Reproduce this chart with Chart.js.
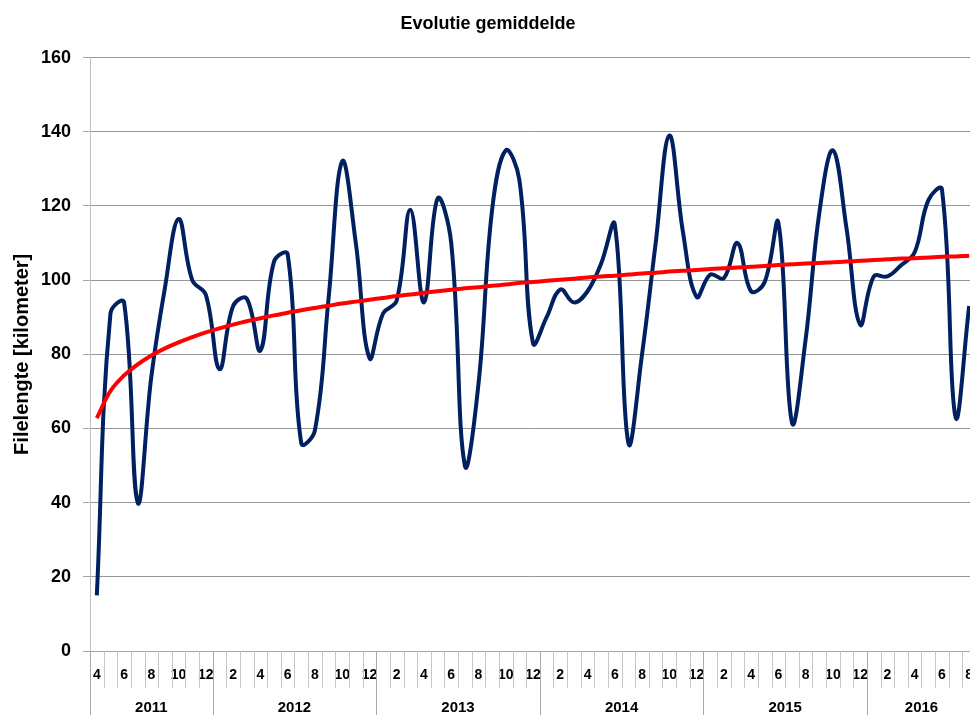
<!DOCTYPE html>
<html>
<head>
<meta charset="utf-8">
<script src="https://cdn.jsdelivr.net/npm/chart.js@4/dist/chart.umd.min.js"></script>
<style>
  html, body { margin: 0; padding: 0; overflow: hidden; background: #ffffff; }
  #wrap { width: 970px; height: 715px; overflow: hidden; }
  canvas { display: block; }
</style>
</head>
<body>
<div id="wrap"><canvas id="c" width="977" height="715"></canvas></div>
<script>
// ---- data ----
const years = ['2011', '2012', '2013', '2014', '2015', '2016'];
const monthsPerYear = [9, 12, 12, 12, 12, 8];
const months = [
  4, 5, 6, 7, 8, 9, 10, 11, 12,
  1, 2, 3, 4, 5, 6, 7, 8, 9, 10, 11, 12,
  1, 2, 3, 4, 5, 6, 7, 8, 9, 10, 11, 12,
  1, 2, 3, 4, 5, 6, 7, 8, 9, 10, 11, 12,
  1, 2, 3, 4, 5, 6, 7, 8, 9, 10, 11, 12,
  1, 2, 3, 4, 5, 6, 7, 8
];
const filelengte = [
  15, 91, 94, 40, 74, 98, 116.5, 100, 96,
  76, 93, 95, 81, 105, 107, 56, 59.5, 95, 132, 110, 79,
  91, 94.5, 119, 94, 122, 110, 50, 72, 119, 135, 127, 83,
  90, 97.5, 94, 97, 104.5, 115, 56, 80, 110, 139, 113, 95.5,
  101.5, 100.5, 110, 97, 99.5, 115.5, 61.5, 84, 118, 135, 114, 88,
  101, 101, 104, 107.5, 121.5, 124.5, 63, 93
];
const trend = [
  62.8, 70.1, 74.3, 77.3, 79.7, 81.6, 83.2, 84.6, 85.9, 87.0,
  88.0, 88.9, 89.7, 90.5, 91.2, 91.9, 92.5, 93.1, 93.7, 94.2,
  94.7, 95.2, 95.7, 96.1, 96.6, 97.0, 97.4, 97.8, 98.1, 98.5,
  98.8, 99.2, 99.5, 99.8, 100.1, 100.4, 100.7, 101.0, 101.2, 101.5,
  101.8, 102.0, 102.3, 102.5, 102.7, 103.0, 103.2, 103.4, 103.6, 103.8,
  104.1, 104.3, 104.5, 104.6, 104.8, 105.0, 105.2, 105.4, 105.6, 105.8,
  105.9, 106.1, 106.3, 106.4, 106.6
];
const yTicks = [0, 20, 40, 60, 80, 100, 120, 140, 160];

const FONT = '"Liberation Sans", Arial, sans-serif';

const categories = months.map((m, i) => String(i));

// plugin drawing the grouped category axis (month separators, year separators, year labels)
const groupedAxis = {
  id: 'groupedAxis',
  afterDraw(chart) {
    const xs = chart.scales.x;
    const ctx = chart.ctx;
    const area = chart.chartArea;
    const half = (xs.getPixelForValue(1) - xs.getPixelForValue(0)) / 2;
    const yearStart = [];
    let acc = 0;
    monthsPerYear.forEach(n => { yearStart.push(acc); acc += n; });
    yearStart.push(acc);
    const edge = i => Math.round(xs.getPixelForValue(Math.min(i, months.length - 1)) + (i === months.length ? half : -half)) + 0.5;
    ctx.save();
    ctx.lineWidth = 1;
    ctx.strokeStyle = '#c6c6c6';
    for (let i = 0; i <= months.length; i++) {
      if (yearStart.includes(i)) continue;
      const x = edge(i);
      ctx.beginPath();
      ctx.moveTo(x, area.bottom);
      ctx.lineTo(x, area.bottom + 37);
      ctx.stroke();
    }
    ctx.strokeStyle = '#a9a9a9';
    yearStart.forEach(i => {
      const x = edge(i);
      ctx.beginPath();
      ctx.moveTo(x, area.bottom);
      ctx.lineTo(x, chart.height);
      ctx.stroke();
    });
    ctx.fillStyle = '#000000';
    ctx.font = 'bold 15px ' + FONT;
    ctx.textAlign = 'center';
    ctx.textBaseline = 'middle';
    years.forEach((yr, k) => {
      const x0 = xs.getPixelForValue(yearStart[k]) - half;
      const x1 = xs.getPixelForValue(yearStart[k + 1] - 1) + half;
      ctx.fillText(yr, (x0 + x1) / 2, 708);
    });
    ctx.restore();
  }
};

new Chart(document.getElementById('c'), {
  type: 'line',
  data: {
    labels: categories,
    datasets: [
      {
        label: 'Filelengte',
        data: filelengte,
        borderColor: '#002060',
        borderWidth: 4,
        pointRadius: 0,
        tension: 0.4,
        fill: false,
        order: 2
      },
      {
        label: 'Trend',
        data: trend,
        borderColor: '#ff0000',
        borderWidth: 4,
        pointRadius: 0,
        tension: 0.4,
        fill: false,
        order: 1
      }
    ]
  },
  options: {
    responsive: false,
    devicePixelRatio: 1,
    animation: false,
    layout: { padding: { left: 0, right: 1, top: 0, bottom: 0 } },
    plugins: {
      legend: { display: false },
      tooltip: { enabled: false },
      title: {
        display: true,
        text: 'Evolutie gemiddelde',
        color: '#000000',
        font: { family: FONT, size: 18, weight: 'bold', lineHeight: 1.2 },
        padding: { top: 13, bottom: 23 }
      }
    },
    scales: {
      x: {
        type: 'category',
        offset: true,
        grid: { display: true, drawOnChartArea: false, drawTicks: true, tickLength: 16, tickColor: 'rgba(0,0,0,0)', color: 'rgba(0,0,0,0)' },
        border: { display: true, color: '#a6a6a6', width: 1 },
        ticks: {
          autoSkip: false,
          maxRotation: 0,
          minRotation: 0,
          padding: 0,
          color: '#000000',
          font: { family: FONT, size: 14, weight: 'bold', lineHeight: 1.2 },
          callback: (v, i) => (months[i] % 2 === 0 ? String(months[i]) : '')
        },
        afterFit: s => { s.height = 64; s.paddingLeft = 0; s.paddingRight = 0; }
      },
      y: {
        min: 0,
        max: 160,
        afterBuildTicks: s => { s.ticks = yTicks.map(v => ({ value: v })); },
        grid: { color: '#969696', tickColor: '#a6a6a6', tickLength: 7, drawTicks: true },
        border: { display: true, color: '#bfbfbf', width: 1 },
        ticks: {
          padding: 12,
          color: '#000000',
          font: { family: FONT, size: 18, weight: 'bold' }
        },
        title: {
          display: true,
          text: 'Filelengte [kilometer]',
          color: '#000000',
          font: { family: FONT, size: 20, weight: 'bold', lineHeight: 1.2 },
          padding: { top: 10, bottom: 0 }
        },
        afterFit: s => { s.width = 90; }
      }
    }
  },
  plugins: [groupedAxis]
});
</script>
</body>
</html>
